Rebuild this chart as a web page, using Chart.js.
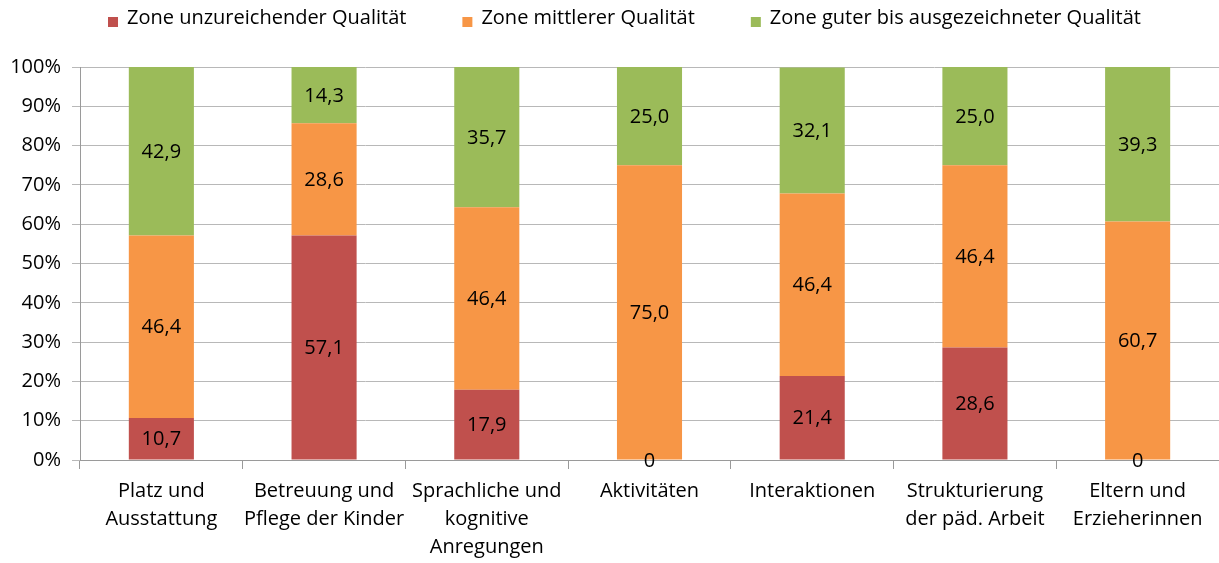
<!DOCTYPE html>
<html>
<head>
<meta charset="utf-8">
<script src="https://cdn.jsdelivr.net/npm/chart.js@4.4.1/dist/chart.umd.min.js"></script>
<style>
  html, body { margin: 0; padding: 0; background: #ffffff; overflow: hidden; }
  #wrap { width: 1219px; height: 563px; }
</style>
</head>
<body>
<div id="wrap"><canvas id="c" width="1219" height="563"></canvas></div>
<script>
const categories = [
  ["Platz und", "Ausstattung"],
  ["Betreuung und", "Pflege der Kinder"],
  ["Sprachliche und", "kognitive", "Anregungen"],
  ["Aktivitäten"],
  ["Interaktionen"],
  ["Strukturierung", "der päd. Arbeit"],
  ["Eltern und", "Erzieherinnen"]
];
const seriesNames = [
  "Zone unzureichender Qualität",
  "Zone mittlerer Qualität",
  "Zone guter bis ausgezeichneter Qualität"
];
const lowValues  = [10.7, 57.1, 17.9, 0, 21.4, 28.6, 0];
const midValues  = [46.4, 28.6, 46.4, 75.0, 46.4, 46.4, 60.7];
const highValues = [42.9, 14.3, 35.7, 25.0, 32.1, 25.0, 39.3];
const seriesColors = ["#C0504D", "#F79646", "#9BBB59"];
const yTickStep = 10;
const yMax = 100;

const FONT = "'Open Sans', sans-serif";
const FS = 20;

const legendPlugin = {
  id: 'customLegend',
  afterDraw(chart) {
    const ctx = chart.ctx;
    ctx.save();
    ctx.font = FS + "px " + FONT;
    ctx.textBaseline = 'middle';
    ctx.textAlign = 'left';
    const box = 10, gapBox = 9, gapItem = 56;
    const ds = chart.data.datasets;
    const widths = ds.map(d => box + gapBox + ctx.measureText(d.label).width);
    const total = widths.reduce((a, b) => a + b, 0) + gapItem * (ds.length - 1);
    let x = 624.5 - total / 2;
    const yc = 18;
    ds.forEach((d, i) => {
      ctx.fillStyle = d.backgroundColor;
      ctx.fillRect(x, yc - 1, box, box);
      ctx.fillStyle = '#000000';
      ctx.fillText(d.label, x + box + gapBox, yc);
      x += widths[i] + gapItem;
    });
    ctx.restore();
  }
};

const valueLabelPlugin = {
  id: 'valueLabels',
  afterDatasetsDraw(chart) {
    const ctx = chart.ctx;
    ctx.save();
    ctx.font = FS + "px " + FONT;
    ctx.fillStyle = '#000000';
    ctx.textAlign = 'center';
    ctx.textBaseline = 'middle';
    chart.data.datasets.forEach((d, i) => {
      const meta = chart.getDatasetMeta(i);
      meta.data.forEach((el, j) => {
        const v = d.data[j];
        if (v === null || v === undefined) return;
        const txt = v === 0 ? "0" : v.toFixed(1).replace('.', ',');
        const y = (el.y + el.base) / 2 + 1;
        ctx.fillText(txt, el.x, y);
      });
    });
    ctx.restore();
  }
};

new Chart(document.getElementById('c'), {
  type: 'bar',
  data: {
    labels: categories,
    datasets: [
      { label: seriesNames[0], data: lowValues,  backgroundColor: seriesColors[0] },
      { label: seriesNames[1], data: midValues,  backgroundColor: seriesColors[1] },
      { label: seriesNames[2], data: highValues, backgroundColor: seriesColors[2] }
    ]
  },
  options: {
    responsive: false,
    animation: false,
    devicePixelRatio: 1,
    layout: { padding: { top: 67, right: 0, left: 0, bottom: 0 } },
    datasets: { bar: { categoryPercentage: 1.0, barPercentage: 0.4 } },
    plugins: {
      legend: { display: false },
      tooltip: { enabled: false }
    },
    scales: {
      x: {
        stacked: true,
        grid: { offset: true, drawOnChartArea: false, drawTicks: true, tickLength: 9, color: '#9a9a9a' },
        border: { color: '#9a9a9a', width: 1 },
        ticks: { color: '#000000', font: { family: FONT, size: FS, lineHeight: 1.4 }, padding: 8, maxRotation: 0, autoSkip: false },
        afterFit(scale) { scale.height = 103; }
      },
      y: {
        stacked: true,
        min: 0,
        max: yMax,
        grid: { color: '#b8b8b8', tickLength: 8, drawTicks: true },
        border: { color: '#9a9a9a', width: 1 },
        ticks: {
          stepSize: yTickStep,
          color: '#000000',
          padding: 11,
          font: { family: FONT, size: FS },
          callback: v => v + '%'
        },
        afterFit(scale) { scale.width = 80; }
      }
    }
  },
  plugins: [legendPlugin, valueLabelPlugin]
});
</script>
</body>
</html>
